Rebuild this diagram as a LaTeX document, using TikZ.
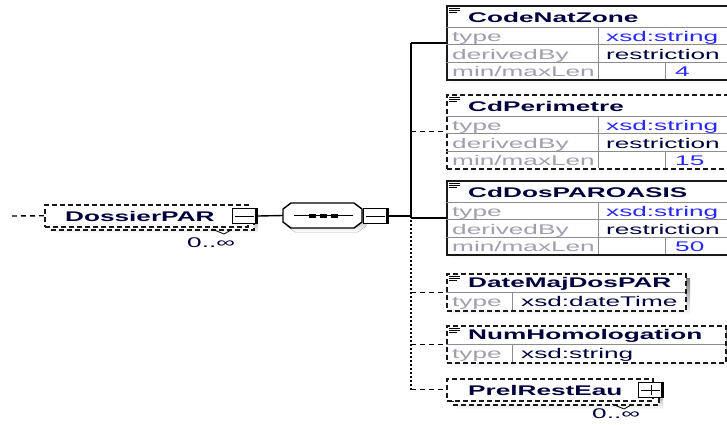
\documentclass[tikz,border=0pt]{standalone}
\usepackage{fontspec}
\setmainfont{Liberation Sans}[FakeStretch=1.87]
\usetikzlibrary{positioning}

\definecolor{hdrblue}{RGB}{0,0,60}
\definecolor{lblgray}{RGB}{160,160,172}
\definecolor{valblue}{RGB}{40,40,255}
\definecolor{shade}{RGB}{195,195,195}

\tikzset{
  box/.style={draw=black!90, line width=1.8pt, fill=white, inner sep=0},
  optbox/.style={box, line width=1.5pt, dash pattern=on 5pt off 3pt},
  rowline/.style={draw=black!45, line width=0.9pt},
  txt/.style={font=\fontsize{14}{15}\selectfont, anchor=base west, inner sep=0},
  hdr/.style={txt, font=\bfseries\fontsize{14}{15}\selectfont, text=hdrblue},
  lbl/.style={txt, text=lblgray},
  val/.style={txt, text=valblue},
  plain/.style={txt, text=hdrblue},
  btn/.style={draw=black, line width=1.3pt, fill=white, minimum width=25pt, minimum height=15pt, inner sep=0},
  btnedge/.style={line width=3pt, line cap=butt},
  link/.style={line width=1.4pt},
  optlink/.style={line width=1.4pt, dash pattern=on 5pt off 4pt},
  dotlink/.style={line width=2pt, dash pattern=on 2pt off 2pt},
  icon/.style={line width=0.8pt},
}

\begin{document}
\begin{tikzpicture}[x=1pt, y=-1pt]
  \useasboundingbox (0,0) rectangle (727,424);
  \clip (0,0) rectangle (727,424);

  % element DossierPAR (0..oo)
  \fill[shade] (55,213) rectangle (258,233);
  \node[optbox, anchor=north west, minimum width=203pt, minimum height=21pt] (dosback) at (50,208) {};
  \node[optbox, anchor=north west, minimum width=203pt, minimum height=22pt] (dos) at (44,204) {};
  \node[hdr] (dosname) at (65,221) {DossierPAR};
  \node[btn] (dosbtn) at (245,216) {};
  \draw[btnedge] (dosbtn.north east) ++(-1.5,0) -- ++(0,15);
  \draw[line width=1pt] ([xshift=3pt]dosbtn.west) -- ([xshift=-4pt]dosbtn.east);
  \draw[line width=0.8pt] (212,229) -- (224,234) -- (231,230);
  \node[plain] (doscard) at (187,247) {0..∞};
  \coordinate (in) at (12,216);
  \draw[optlink] (in) -- (dos.west);

  % sequence
  \fill[shade] (287,207) -- (295,207) -- (358,207) -- (366,213) -- (366,226) -- (358,232) -- (295,232) -- (287,226) -- cycle;
  \draw[line width=1.4pt, fill=white] (283,209) -- (291,203) -- (354,203) -- (362,209) -- (362,222) -- (354,228) -- (291,228) -- (283,222) -- cycle;
  \node[minimum width=79pt, minimum height=25pt, inner sep=0] (seq) at (322.5,215.5) {};
  \draw[line width=1.2pt] (294,215.5) -- (353,215.5);
  \foreach \d in {312,323,334}
    \fill (\d-3.5,213.5) rectangle (\d+3.5,217.5);
  \node[btn] (seqbtn) at (376,216) {};
  \draw[btnedge] (seqbtn.north east) ++(-1.5,0) -- ++(0,15);
  \draw[line width=1pt] ([xshift=3pt]seqbtn.west) -- ([xshift=-4pt]seqbtn.east);
  \draw[link] (dosbtn.east) -- (seq.west);
  \coordinate (fork) at (411,216);
  \draw[link] (seqbtn.east) -- (fork);

  % restricted string children
  \foreach \nm/\t/\len/\st in {CodeNatZone/5/4/box, CdPerimetre/94/15/optbox, CdDosPAROASIS/180/50/box} {
    \fill[shade] (451,\t+5) rectangle (740,\t+79);
    \node[\st, anchor=north west, minimum width=300pt, minimum height=74pt] (\nm) at (446,\t) {};
    \draw[rowline] (446,\t+22) -- (740,\t+22) (446,\t+39.5) -- (740,\t+39.5) (446,\t+57) -- (740,\t+57);
    \draw[rowline] (598,\t+22) -- (598,\t+74) (665,\t+57) -- (665,\t+74);
    \draw[icon] (449,\t+3) -- (460,\t+3) (449,\t+5) -- (460,\t+5) (449,\t+7) -- (457,\t+7);
    \node[hdr] (\nm-name) at (468,\t+17) {\nm};
    \node[lbl] (\nm-type) at (452,\t+36.5) {type};
    \node[val] (\nm-base) at (606,\t+36.5) {xsd:string};
    \node[lbl] (\nm-der) at (452,\t+54) {derivedBy};
    \node[plain] (\nm-restr) at (606,\t+54) {restriction};
    \node[lbl] (\nm-len) at (452,\t+71.5) {min/maxLen};
    \node[val] (\nm-max) at (675,\t+71.5) {\len};
  }

  % simple typed children
  \foreach \nm/\t/\w/\ty in {DateMajDosPAR/273/239/xsd:dateTime, NumHomologation/325/279/xsd:string} {
    \fill[shade] (451,\t+5) rectangle (446+\w+5,\t+42);
    \node[optbox, anchor=north west, minimum width=\w pt, minimum height=37pt] (\nm) at (446,\t) {};
    \draw[rowline] (446,\t+19) -- (446+\w,\t+19) (512,\t+19) -- (512,\t+37);
    \draw[icon] (449,\t+3) -- (460,\t+3) (449,\t+5) -- (460,\t+5) (449,\t+7) -- (457,\t+7);
    \node[hdr] (\nm-name) at (468,\t+14.5) {\nm};
    \node[lbl] (\nm-type) at (452,\t+33) {type};
    \node[plain] (\nm-base) at (521,\t+33) {\ty};
  }

  % element PrelRestEau (0..oo)
  \fill[shade] (457,387) rectangle (663,409);
  \node[optbox, anchor=north west, minimum width=206pt, minimum height=22pt] (prelback) at (452,382) {};
  \node[optbox, anchor=north west, minimum width=206pt, minimum height=22pt] (PrelRestEau) at (446,378) {};
  \node[hdr] (PrelRestEau-name) at (468,395) {PrelRestEau};
  \node[btn] (prelbtn) at (651,390) {};
  \draw[btnedge] (prelbtn.north east) ++(-1.5,0) -- ++(0,15);
  \draw[line width=1pt] ([xshift=3pt]prelbtn.west) -- ([xshift=-4pt]prelbtn.east);
  \draw[line width=1pt] ([yshift=-3pt]prelbtn.north) -- ([yshift=3pt]prelbtn.south);
  \draw[line width=0.8pt] (612,404) -- (624,409) -- (631,405);
  \node[plain] (prelcard) at (592,418) {0..∞};

  % tree lines
  \draw[link] (fork) -- (fork |- CodeNatZone.west);
  \draw[dotlink] (fork) -- (fork |- PrelRestEau.west);
  \draw[link] (fork |- CodeNatZone.west) -- (CodeNatZone.west);
  \draw[optlink] (fork |- CdPerimetre.west) -- (CdPerimetre.west);
  \draw[link] (fork |- CdDosPAROASIS.west) -- (CdDosPAROASIS.west);
  \draw[optlink] (fork |- DateMajDosPAR.west) -- (DateMajDosPAR.west);
  \draw[optlink] (fork |- NumHomologation.west) -- (NumHomologation.west);
  \draw[optlink] (fork |- PrelRestEau.west) -- (PrelRestEau.west);
\end{tikzpicture}
\end{document}
